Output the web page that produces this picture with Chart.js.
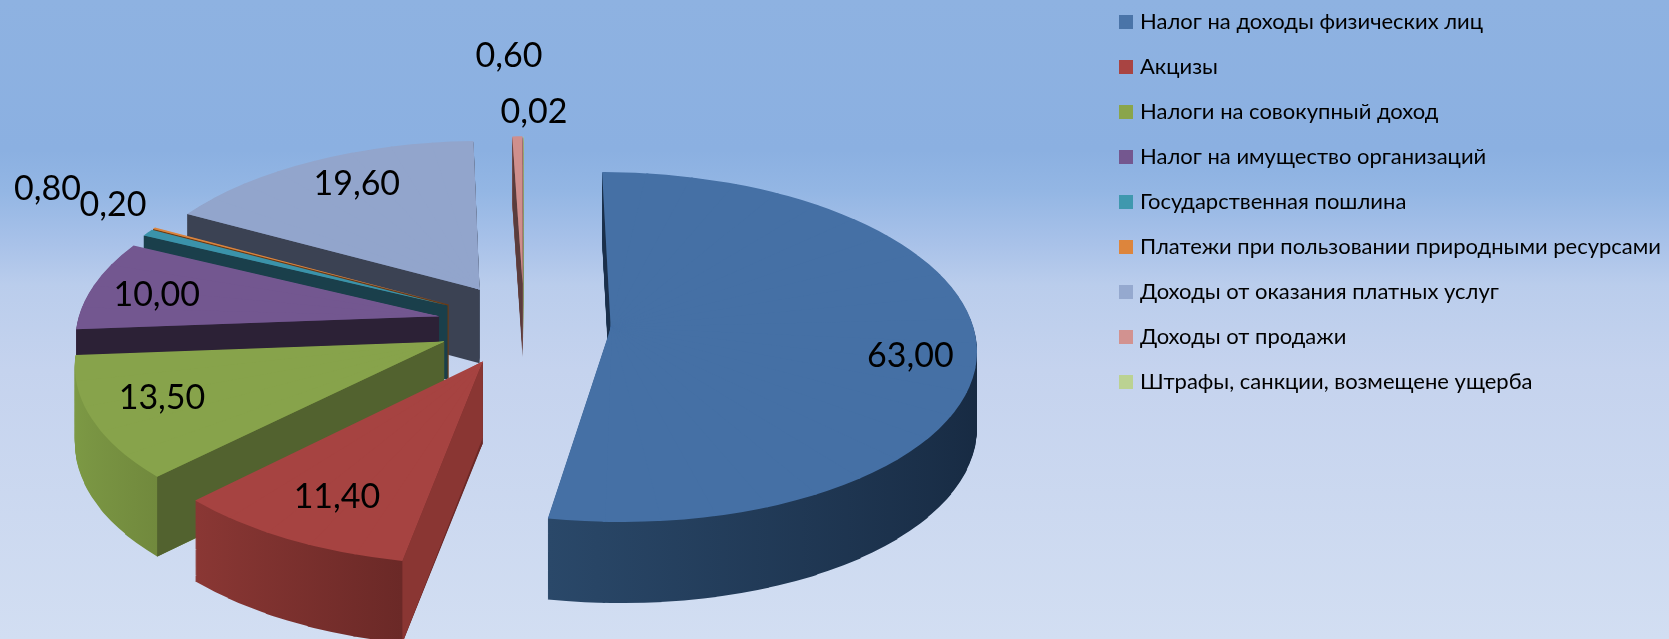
<!DOCTYPE html>
<html>
<head>
<meta charset="utf-8">
<style>
    html, body { margin: 0; padding: 0; width: 1669px; height: 639px; overflow: hidden; }
    body { background: linear-gradient(180deg, #8eb2e1 0px, #8bb0e1 150px, #93b6e4 190px, #a9c2e9 245px, #bacdec 285px, #c5d3ee 370px, #d2def2 639px); }
    canvas { display: block; }
</style>
<script src="https://cdn.jsdelivr.net/npm/chart.js@4"></script>
</head>
<body>
<canvas id="pieChart" width="1669" height="639"></canvas>
<script>
const categories = [
    "Налог на доходы физических лиц",
    "Акцизы",
    "Налоги на совокупный доход",
    "Налог на имущество организаций",
    "Государственная пошлина",
    "Платежи при пользовании природными ресурсами",
    "Доходы от оказания платных услуг",
    "Доходы от продажи",
    "Штрафы, санкции, возмещене ущерба"
];
const values = [63, 11.4, 13.5, 10, 0.8, 0.2, 19.6, 0.6, 0.02];
const valueLabels = ["63,00", "11,40", "13,50", "10,00", "0,80", "0,20", "19,60", "0,60", "0,02"];

const topColors = ["#4570a5", "#a64341", "#87a34b", "#735790", "#3b93aa", "#db843d", "#92a5cc", "#cf8f8d", "#b9d08f"];
const legendColors = ["#4a74a8", "#a94442", "#8aa54a", "#74578f", "#3f98ae", "#dd853c", "#95a9cf", "#d29290", "#bbd292"];
const cutColors = ["#1a2f4a", "#8a3633", "#52622f", "#2c2136", "#1a3f4b", "#6b3a14", "#3b4253", "#5a3c3c", "#55663a"];
const wallLeft = ["#2a4869", "#8a3734", "#7d9a45", "#5b4570", "#2a6a7a", "#a0602a", "#6b7a98", "#96686a", "#8a9a6a"];
const wallRight = ["#172a42", "#6b2927", "#71893d", "#4a3860", "#225866", "#8a5020", "#5a6882", "#86585a", "#7a8a5a"];

// где подпись относительно вершины сектора, в долях радиуса
const labelAnchors = [[0.807, 0.16], [-0.354, 0.693], [-0.737, 0.31], [-0.798, -0.127], [-1.227, -0.75], [-1.018, -0.634], [-0.382, -0.689], [-0.046, -1.641], [0.032, -1.186]];
const drawOrder = [6, 5, 4, 3, 2, 1, 7, 8, 0];

// параметры "3D" проекции
const CX = 524, CY = 324, RX = 362, RY = 172, PERSP = 0.11, EXPLODE = 0.24, DEPTH = 75, LAYERS = 80;
const WEDGE = Math.PI / 22;

function project(u, v) {
    const w = 1 / (1 - PERSP * v);
    return { x: CX + RX * u * w, y: CY + RY * v * w };
}

function depthAt(v) {
    return DEPTH * (1 + 0.08 * v);
}

// сектор режем на узкие клинья, у каждого своя аффинная матрица
function sliceWedges(arc) {
    const mid = (arc.startAngle + arc.endAngle) / 2;
    const ua = EXPLODE * Math.cos(mid), va = EXPLODE * Math.sin(mid);
    const o = project(ua, va);
    const span = arc.endAngle - arc.startAngle;
    const n = Math.max(1, Math.ceil(span / WEDGE));
    const wedges = [];
    for (let k = 0; k < n; k++) {
        const t0 = arc.startAngle + span * k / n, t1 = arc.startAngle + span * (k + 1) / n;
        const f1 = [Math.cos(t0), Math.sin(t0)], f2 = [Math.cos(t1), Math.sin(t1)];
        const p1 = project(ua + f1[0], va + f1[1]), p2 = project(ua + f2[0], va + f2[1]);
        const g1 = [p1.x - o.x, p1.y - o.y], g2 = [p2.x - o.x, p2.y - o.y];
        const det = f1[0] * f2[1] - f2[0] * f1[1];
        wedges.push({
            f1, f2,
            v: va + Math.sin((t0 + t1) / 2),
            m11: (g1[0] * f2[1] - g2[0] * f1[1]) / det,
            m12: (g2[0] * f1[0] - g1[0] * f2[0]) / det,
            m21: (g1[1] * f2[1] - g2[1] * f1[1]) / det,
            m22: (g2[1] * f1[0] - g1[1] * f2[0]) / det
        });
    }
    return { o, ua, va, wedges };
}

function paintArc(ctx, arc, frame, layer, fill) {
    const r = arc.outerRadius;
    const saved = arc.options;
    arc.options = Object.assign({}, saved, { backgroundColor: fill, borderWidth: 0, offset: 0 });
    frame.wedges.forEach(q => {
        const A = q.m11 / r, B = q.m21 / r, C = q.m12 / r, D = q.m22 / r;
        const shift = layer * depthAt(q.v);
        // клин чуть шире настоящего, чтобы не было швов
        const n0 = [q.f1[1], -q.f1[0]], n1 = [-q.f2[1], q.f2[0]];
        ctx.save();
        ctx.setTransform(A, B, C, D,
            frame.o.x - A * arc.x - C * arc.y,
            frame.o.y + shift - B * arc.x - D * arc.y);
        ctx.beginPath();
        ctx.moveTo(arc.x + n0[0], arc.y + n0[1]);
        ctx.lineTo(arc.x + n0[0] + 2 * r * q.f1[0], arc.y + n0[1] + 2 * r * q.f1[1]);
        ctx.lineTo(arc.x + n1[0] + 2 * r * q.f2[0], arc.y + n1[1] + 2 * r * q.f2[1]);
        ctx.lineTo(arc.x + n1[0], arc.y + n1[1]);
        ctx.closePath();
        ctx.clip();
        arc.draw(ctx);
        ctx.restore();
    });
    arc.options = saved;
}

const pie3d = {
    id: "pie3d",
    afterLayout(chart) {
        const lab = chart.legend.options.labels;
        chart.legend.left = 1123 - lab.padding;
        chart.legend.top = 22 - lab.padding - lab.font.size / 2;
    },
    beforeDatasetDraw(chart, args) {
        const ctx = chart.ctx;
        const arcs = args.meta.data;
        drawOrder.forEach(i => {
            const arc = arcs[i];
            const frame = sliceWedges(arc);
            const r = arc.outerRadius;

            // боковая стенка
            const xs = [Math.cos(arc.startAngle), Math.cos(arc.endAngle)];
            if (arc.startAngle < 0 && arc.endAngle > 0) xs.push(1);
            const grad = ctx.createLinearGradient(arc.x + r * Math.min(...xs), 0, arc.x + r * Math.max(...xs), 0);
            grad.addColorStop(0, wallLeft[i]);
            grad.addColorStop(1, wallRight[i]);
            for (let d = LAYERS; d > 0; d--) paintArc(ctx, arc, frame, d / LAYERS, grad);

            // видимые срезы
            const mid = (arc.startAngle + arc.endAngle) / 2;
            const m = project(frame.ua + 0.6 * Math.cos(mid), frame.va + 0.6 * Math.sin(mid));
            [arc.startAngle, arc.endAngle].forEach(angle => {
                const tv = frame.va + Math.sin(angle);
                const tip = project(frame.ua + Math.cos(angle), tv);
                const dx = tip.x - frame.o.x;
                if (Math.abs(dx) < 0.01) return;
                const lineY = frame.o.y + (tip.y - frame.o.y) * (m.x - frame.o.x) / dx;
                if (lineY < m.y) return;
                ctx.fillStyle = cutColors[i];
                ctx.beginPath();
                ctx.moveTo(frame.o.x, frame.o.y);
                ctx.lineTo(tip.x, tip.y);
                ctx.lineTo(tip.x, tip.y + depthAt(tv));
                ctx.lineTo(frame.o.x, frame.o.y + depthAt(frame.va));
                ctx.closePath();
                ctx.fill();
            });

            // верх сектора
            paintArc(ctx, arc, frame, 0, topColors[i]);
        });
        return false;
    },
    afterDraw(chart) {
        const ctx = chart.ctx;
        const arcs = chart.getDatasetMeta(0).data;
        ctx.save();
        ctx.font = "34px Lato";
        ctx.fillStyle = "#000";
        ctx.textAlign = "center";
        ctx.textBaseline = "middle";
        valueLabels.forEach((text, i) => {
            const frame = sliceWedges(arcs[i]);
            const p = project(frame.ua + labelAnchors[i][0], frame.va + labelAnchors[i][1]);
            ctx.fillText(text, p.x, p.y);
        });
        ctx.restore();
    }
};

new Chart(document.getElementById("pieChart").getContext("2d"), {
    type: "pie",
    data: {
        labels: categories,
        datasets: [{ data: values, backgroundColor: topColors, borderWidth: 0 }]
    },
    options: {
        responsive: false,
        animation: false,
        plugins: {
            tooltip: { enabled: false },
            legend: {
                position: "right",
                align: "start",
                labels: {
                    boxWidth: 6,
                    boxHeight: 6,
                    padding: 23,
                    color: "#111",
                    font: { family: "Lato", size: 22 },
                    generateLabels: () => categories.map((text, i) => ({
                        text,
                        fillStyle: legendColors[i],
                        strokeStyle: legendColors[i],
                        lineWidth: 8,
                        index: i
                    }))
                }
            }
        }
    },
    plugins: [pie3d]
});
</script>
</body>
</html>
